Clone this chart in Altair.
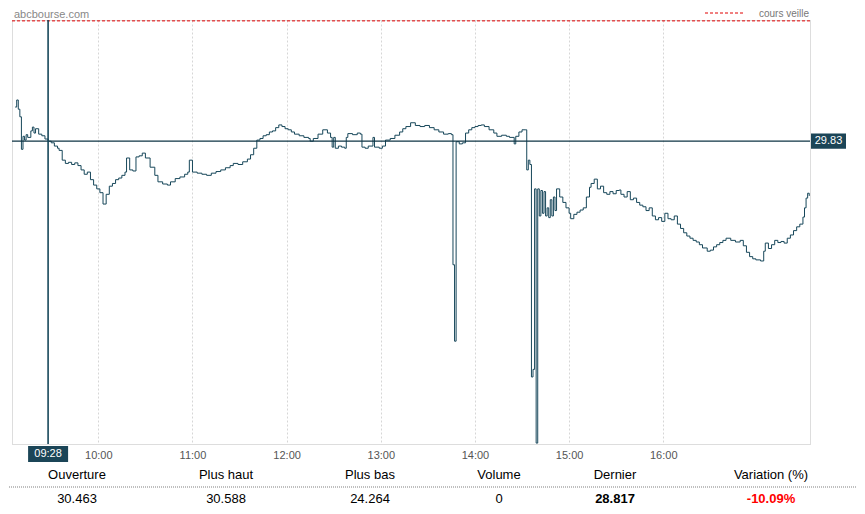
import altair as alt
import pandas as pd

# ---------------- data ----------------
times = [
    "09:07", "09:08", "09:09", "09:10", "09:11", "09:12", "09:13", "09:14", "09:15", "09:17",
    "09:18", "09:19", "09:20", "09:22", "09:24", "09:26", "09:28", "09:30", "09:32", "09:34",
    "09:35", "09:37", "09:39", "09:41", "09:43", "09:45", "09:47", "09:49", "09:51", "09:53",
    "09:55", "09:57", "09:59", "10:01", "10:03", "10:05", "10:07", "10:09", "10:11", "10:13",
    "10:15", "10:17", "10:18", "10:20", "10:22", "10:24", "10:26", "10:28", "10:30", "10:33",
    "10:36", "10:38", "10:41", "10:44", "10:46", "10:49", "10:52", "10:55", "10:57", "10:58",
    "11:00", "11:03", "11:06", "11:09", "11:12", "11:15", "11:18", "11:21", "11:24", "11:26",
    "11:29", "11:32", "11:35", "11:37", "11:39", "11:41", "11:43", "11:45", "11:47", "11:49",
    "11:51", "11:53", "11:55", "11:57", "11:59", "12:01", "12:03", "12:05", "12:08", "12:11",
    "12:14", "12:15", "12:17", "12:20", "12:23", "12:26", "12:28", "12:29", "12:30", "12:31",
    "12:33", "12:35", "12:37", "12:38", "12:39", "12:42", "12:45", "12:47", "12:48", "12:50",
    "12:52", "12:55", "12:56", "12:59", "13:01", "13:03", "13:06", "13:09", "13:12", "13:14",
    "13:16", "13:19", "13:22", "13:25", "13:28", "13:31", "13:34", "13:37", "13:40", "13:43",
    "13:45", "13:46", "13:47", "13:48", "13:50", "13:52", "13:54", "13:56", "13:58", "14:00",
    "14:02", "14:04", "14:06", "14:09", "14:12", "14:14", "14:17", "14:20", "14:22", "14:25",
    "14:26", "14:28", "14:30", "14:32", "14:33", "14:34", "14:35", "14:36", "14:37", "14:38",
    "14:39", "14:40", "14:41", "14:42", "14:43", "14:44", "14:45", "14:46", "14:47", "14:48",
    "14:49", "14:50", "14:51", "14:52", "14:54", "14:56", "14:58", "15:00", "15:01", "15:03",
    "15:05", "15:07", "15:09", "15:11", "15:13", "15:14", "15:16", "15:18", "15:20", "15:22",
    "15:24", "15:26", "15:28", "15:30", "15:32", "15:33", "15:35", "15:37", "15:39", "15:41",
    "15:43", "15:45", "15:47", "15:49", "15:51", "15:53", "15:55", "15:57", "15:59", "16:01",
    "16:03", "16:05", "16:07", "16:09", "16:11", "16:13", "16:15", "16:17", "16:19", "16:21",
    "16:23", "16:25", "16:28", "16:30", "16:32", "16:34", "16:36", "16:38", "16:40", "16:43",
    "16:46", "16:49", "16:51", "16:53", "16:55", "16:57", "16:59", "17:02", "17:04", "17:05",
    "17:07", "17:09", "17:11", "17:13", "17:15", "17:17", "17:19", "17:21", "17:23", "17:25",
    "17:27", "17:29", "17:30", "17:31", "17:32", "17:33",
]
prices = [
    30.46, 30.59, 30.42, 30.28, 29.68, 29.92, 29.85, 29.95, 29.90, 30.02,
    30.09, 29.98, 30.06, 29.96, 29.93, 29.87, 29.83, 29.80, 29.74, 29.70,
    29.66, 29.48, 29.42, 29.44, 29.40, 29.43, 29.38, 29.30, 29.22, 29.26,
    29.12, 29.02, 28.95, 28.88, 28.67, 28.85, 29.00, 29.05, 29.12, 29.15,
    29.20, 29.26, 29.52, 29.30, 29.28, 29.54, 29.56, 29.61, 29.52, 29.35,
    29.20, 29.08, 29.04, 29.02, 29.08, 29.14, 29.17, 29.22, 29.26, 29.48,
    29.26, 29.24, 29.22, 29.20, 29.24, 29.27, 29.30, 29.34, 29.38, 29.42,
    29.40, 29.45, 29.50, 29.58, 29.70, 29.85, 29.88, 29.93, 29.95, 30.00,
    30.02, 30.08, 30.13, 30.10, 30.06, 30.04, 30.00, 29.96, 29.93, 29.90,
    29.88, 29.83, 29.88, 29.96, 30.04, 29.98, 29.90, 29.72, 29.90, 29.70,
    29.74, 29.72, 29.70, 29.90, 29.97, 29.95, 29.98, 29.96, 29.72, 29.70,
    29.74, 29.90, 29.72, 29.70, 29.74, 29.85, 29.88, 29.94, 30.00, 30.06,
    30.10, 30.17, 30.12, 30.10, 30.12, 30.08, 30.04, 30.00, 29.96, 29.97,
    29.95, 27.55, 26.14, 29.82, 29.78, 29.80, 29.98, 30.04, 30.08, 30.10,
    30.12, 30.13, 30.10, 30.04, 29.98, 29.92, 29.94, 29.92, 29.90, 29.78,
    29.92, 30.00, 30.04, 30.04, 29.30, 29.48, 29.40, 25.48, 25.62, 28.95,
    24.26, 28.95, 28.45, 28.92, 28.50, 28.90, 28.45, 28.60, 28.42, 28.75,
    28.45, 28.80, 28.55, 28.95, 28.80, 28.70, 28.60, 28.50, 28.40, 28.48,
    28.52, 28.56, 28.60, 28.80, 28.98, 29.05, 29.13, 28.95, 29.00, 28.88,
    28.85, 28.90, 28.86, 28.92, 28.93, 28.85, 28.80, 28.90, 28.75, 28.78,
    28.70, 28.65, 28.62, 28.55, 28.60, 28.45, 28.38, 28.42, 28.35, 28.50,
    28.40, 28.38, 28.45, 28.30, 28.22, 28.14, 28.08, 28.04, 28.00, 27.97,
    27.92, 27.86, 27.80, 27.82, 27.88, 27.92, 27.96, 28.00, 28.04, 28.00,
    27.97, 28.00, 27.90, 27.78, 27.70, 27.66, 27.64, 27.62, 27.80, 27.95,
    27.85, 27.92, 28.00, 27.96, 27.98, 27.95, 28.04, 28.10, 28.18, 28.25,
    28.30, 28.43, 28.60, 28.78, 28.87, 28.82,
]
y_ticks = [31.90, 31.16, 30.42, 29.68, 28.95, 28.21, 27.47, 26.73, 25.99, 25.25, 24.52]
x_ticks = [10, 11, 12, 13, 14, 15, 16]
prev_close = 32.05
cursor_time = "09:28"
cursor_price = 29.83
headers = ["Ouverture", "Plus haut", "Plus bas", "Volume", "Dernier", "Variation (%)"]
stats = ["30.463", "30.588", "24.264", "0", "28.817", "-10.09%"]


def to_h(s):
    h, m = s.split(":")
    return int(h) + int(m) / 60


FONT = "Liberation Sans"
DARK = "#17475a"
BOX = "#1b4557"

df = pd.DataFrame({"h": [to_h(t) for t in times], "p": prices})

xs = alt.Scale(domain=[9 + 5 / 60, 17 + 33.5 / 60], nice=False, zero=False)
ys = alt.Scale(domain=[24.243, 32.066], nice=False, zero=False)

line = alt.Chart(df).mark_line(interpolate="step-after", color=DARK, strokeWidth=1).encode(
    x=alt.X("h:Q", scale=xs, axis=alt.Axis(
        values=x_ticks, labelExpr="datum.value + ':00'", grid=True, gridColor="#d6d6d6",
        gridDash=[2, 2], ticks=False, domain=False, labelColor="#555555", labelFontSize=11,
        labelFont=FONT, labelPadding=5, title=None)),
    y=alt.Y("p:Q", scale=ys, axis=alt.Axis(
        orient="right", values=y_ticks, format=".2f", grid=True, gridColor="#d6d6d6",
        gridDash=[2, 1], ticks=False, domain=False, labelColor="#555555", labelFontSize=11,
        labelFont=FONT, labelPadding=8, title=None)),
)

prev_df = pd.DataFrame({"p": [prev_close]})
prev_rule = alt.Chart(prev_df).mark_rule(color="#e00000", strokeDash=[3, 2], strokeWidth=1).encode(
    y=alt.Y("p:Q", scale=ys, axis=None))

cur_df = pd.DataFrame({"h": [to_h(cursor_time)], "p": [cursor_price],
                       "tl": [cursor_time], "pl": [f"{cursor_price:.2f}"]})
h_rule = alt.Chart(cur_df).mark_rule(color="#0f3545", strokeWidth=1.2).encode(
    y=alt.Y("p:Q", scale=ys, axis=None))
v_rule = alt.Chart(cur_df).mark_rule(color=DARK, strokeWidth=1.6).encode(
    x=alt.X("h:Q", scale=xs, axis=None))

t_box = alt.Chart(cur_df).transform_calculate(
    lo="datum.h - 0.2124", hi="datum.h + 0.2124").mark_rect(color=BOX).encode(
    x=alt.X("lo:Q", scale=xs, axis=None), x2="hi:Q",
    y=alt.value(426), y2=alt.value(442))
t_txt = alt.Chart(cur_df).mark_text(color="white", fontSize=11, font=FONT).encode(
    x=alt.X("h:Q", scale=xs, axis=None), y=alt.value(434), text="tl:N")

p_box = alt.Chart(cur_df).transform_calculate(
    lo="datum.p - 0.14", hi="datum.p + 0.14").mark_rect(color=BOX).encode(
    y=alt.Y("lo:Q", scale=ys, axis=None), y2="hi:Q",
    x=alt.value(799), x2=alt.value(834))
p_txt = alt.Chart(cur_df).mark_text(color="white", fontSize=11, font=FONT).encode(
    y=alt.Y("p:Q", scale=ys, axis=None), x=alt.value(816.5), text="pl:N")

site = alt.Chart(pd.DataFrame({"t": ["abcbourse.com"]})).mark_text(
    align="left", baseline="alphabetic", color="#888888", fontSize=11, font=FONT).encode(
    x=alt.value(2), y=alt.value(-2), text="t:N")
leg_line = alt.Chart(pd.DataFrame({"t": ["cours veille"]})).mark_rule(
    color="#e00000", strokeDash=[3, 2]).encode(
    x=alt.value(693), x2=alt.value(731), y=alt.value(-7))
leg_txt = alt.Chart(pd.DataFrame({"t": ["cours veille"]})).mark_text(
    align="right", baseline="alphabetic", color="#777777", fontSize=10, font=FONT).encode(
    x=alt.value(797), y=alt.value(-3), text="t:N")

tab = pd.DataFrame({"i": list(range(len(headers))), "head": headers, "val": stats})
tab_x = alt.X("i:Q", scale=alt.Scale(domain=[0, 1, 2, 3, 4, 5],
                                     range=[65, 214, 358, 487, 603, 759]), axis=None)
head_txt = alt.Chart(tab).mark_text(color="#000000", fontSize=13, font=FONT).encode(
    x=tab_x, y=alt.value(455), text="head:N")
sep = alt.Chart(pd.DataFrame({"t": ["sep"]})).mark_rule(
    color="#aaaaaa", strokeDash=[1, 1], strokeWidth=1.5).encode(
    x=alt.value(-7), x2=alt.value(845), y=alt.value(467))
val_txt = alt.Chart(tab).transform_filter("datum.i < 4").mark_text(
    color="#000000", fontSize=13, font=FONT).encode(
    x=tab_x, y=alt.value(479), text="val:N")
last_txt = alt.Chart(tab).transform_filter("datum.i == 4").mark_text(
    color="#000000", fontSize=13, font=FONT, fontWeight="bold").encode(
    x=tab_x, y=alt.value(479), text="val:N")
var_txt = alt.Chart(tab).transform_filter("datum.i == 5").mark_text(
    color="#ff0000", fontSize=13, font=FONT, fontWeight="bold").encode(
    x=tab_x, y=alt.value(479), text="val:N")

chart = alt.layer(
    line, prev_rule, h_rule, v_rule, t_box, t_txt, p_box, p_txt,
    site, leg_line, leg_txt, head_txt, sep, val_txt, last_txt, var_txt,
).resolve_scale(x="independent").properties(
    width=798, height=424,
    autosize=alt.AutoSizeParams(type="none"),
    padding={"left": 4, "top": 12, "right": 47, "bottom": 62},
    background="white",
).configure_view(stroke="#bbbbbb", strokeDash=[1, 1])

chart.save("out.html", embed_options={"renderer": "svg", "actions": False})
